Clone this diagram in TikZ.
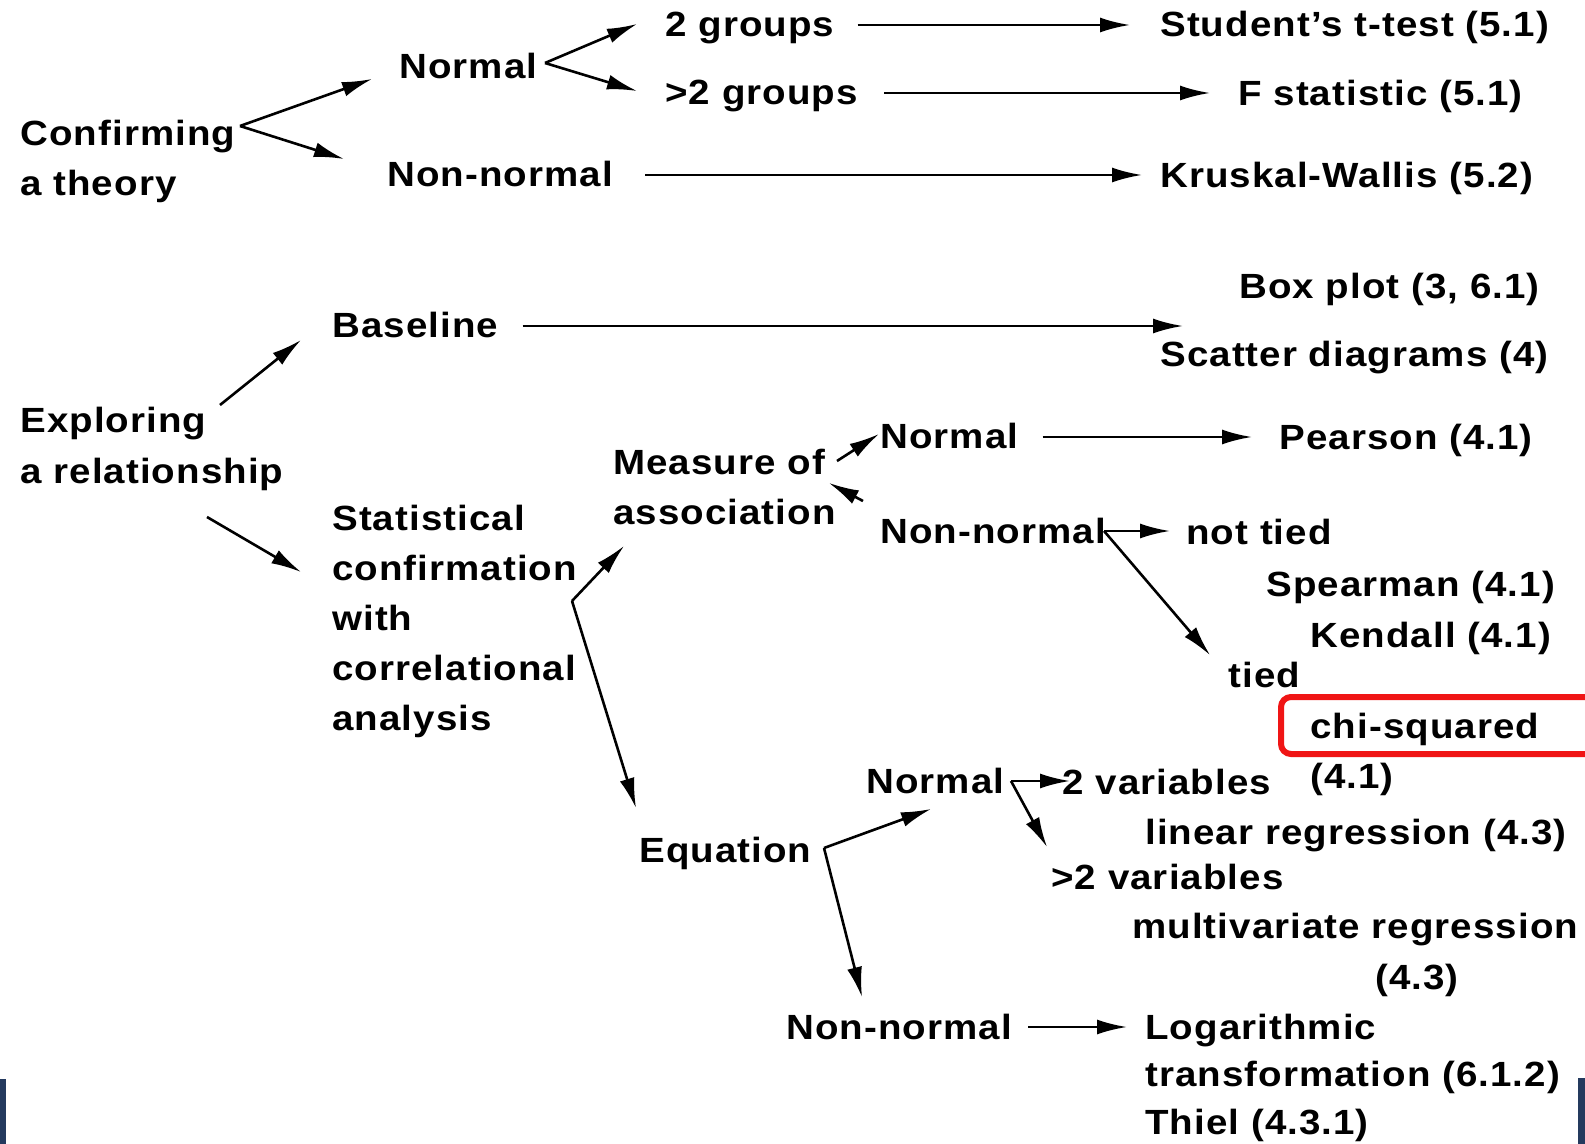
\documentclass[tikz,border=0pt]{standalone}
\usepackage{fontspec}
\newfontfamily\chartfont{Liberation Sans}[FakeStretch=1.1,LetterSpace=3.0]
\usetikzlibrary{arrows.meta}
\definecolor{MarkRed}{HTML}{F01515}
\definecolor{EdgeNavy}{HTML}{243A5E}

\begin{document}
\begin{tikzpicture}[x=0.5pt,y=-0.5pt,>={Latex[length=15pt,width=7.5pt]},
  txt/.style={font=\chartfont\bfseries\fontsize{17.5pt}{25pt}\selectfont,
    inner sep=0pt,anchor=base west,align=left},
  link/.style={->,line width=1.3pt}]
  \useasboundingbox (0,0) rectangle (1585,1144);
  % confirming a theory (multi-line nodes sit on their last line)
  \node[txt] (conf) at (20,196) {Confirming\\a theory};
  \node[txt] (normA) at (399,79) {Normal};
  \node[txt] (nonA) at (387,187) {Non-normal};
  \node[txt] (grp2) at (665,37) {2 groups};
  \node[txt] (grp3) at (665,105) {>2 groups};
  \node[txt] (ttest) at (1160,37) {Student’s t-test (5.1)};
  \node[txt] (fstat) at (1238,106) {F statistic (5.1)};
  \node[txt] (krus) at (1160,188) {Kruskal-Wallis (5.2)};
  % exploring a relationship
  \node[txt] (expl) at (20,483) {Exploring\\a relationship};
  \node[txt] (base) at (332,338) {Baseline};
  \node[txt] (boxp) at (1239,299) {Box plot (3, 6.1)};
  \node[txt] (scat) at (1160,367) {Scatter diagrams (4)};
  \node[txt] (stat) at (332,730) {Statistical\\confirmation\\with\\correlational\\analysis};
  \node[txt] (meas) at (613,524) {Measure of\\association};
  \node[txt] (normB) at (880,449) {Normal};
  \node[txt] (nonB) at (880,544) {Non-normal};
  \node[txt] (pear) at (1279,450) {Pearson (4.1)};
  \node[txt] (ntied) at (1186,545) {not tied};
  \node[txt] (spear) at (1266,596) {Spearman (4.1)};
  \node[txt] (kend) at (1310,647) {Kendall (4.1)};
  \node[txt] (tied) at (1228,687) {tied};
  \node[txt] (chi) at (1310,788) {chi-squared\\(4.1)};
  \node[txt] (equ) at (639,862) {Equation};
  \node[txt] (normC) at (866,793) {Normal};
  \node[txt] (var2) at (1062,794) {2 variables};
  \node[txt] (linreg) at (1145,844) {linear regression (4.3)};
  \node[txt] (var3) at (1051,889) {>2 variables};
  \node[txt] (mult) at (1132,938) {multivariate regression};
  \node[txt] (mult43) at (1375,989) {(4.3)};
  \node[txt] (nonC) at (786,1039) {Non-normal};
  \node[txt] (loga) at (1145,1134) {Logarithmic\\[-1.25pt]transformation (6.1.2)\\[-1.25pt]Thiel (4.3.1)};

  % fork points and arrow tips
  \coordinate (confFork) at (240,126);
  \coordinate (normATip) at (372,79);
  \coordinate (nonATip) at (344,159);
  \coordinate (normAFork) at (545,63);
  \coordinate (grp2Tip) at (637,24);
  \coordinate (grp3Tip) at (637,91);
  \coordinate (explUp) at (220,405);
  \coordinate (baseTip) at (301,340);
  \coordinate (explDown) at (207,517);
  \coordinate (statTip) at (301,572);
  \coordinate (scatTip) at (1183,325);
  \coordinate (statFork) at (572,601);
  \coordinate (measTip) at (624,546);
  \coordinate (equTip) at (636,808);
  \coordinate (measOut) at (837,461);
  \coordinate (normBTip) at (879,434);
  \coordinate (nonBBack) at (863,501);
  \coordinate (measBack) at (829,483);
  \coordinate (nonFork) at (1104,531);
  \coordinate (tiedTip) at (1210,655);
  \coordinate (equFork) at (824,848);
  \coordinate (normCTip) at (931,809);
  \coordinate (nonCTip) at (862,997);
  \coordinate (normFork) at (1011,781);
  \coordinate (var3Tip) at (1047,847);

  \draw[link] (confFork) -- (normATip);
  \draw[link] (confFork) -- (nonATip);
  \draw[link] (normAFork) -- (grp2Tip);
  \draw[link] (normAFork) -- (grp3Tip);
  \draw[link,shorten <=11.5pt,shorten >=15pt] ([yshift=6pt]grp2.base east) -- ([yshift=6pt]grp2.base east -| ttest.west);
  \draw[link,shorten <=13pt,shorten >=14pt] ([yshift=6pt]grp3.base east) -- ([yshift=6pt]grp3.base east -| fstat.west);
  \draw[link,shorten <=16pt,shorten >=9pt] ([yshift=6pt]nonA.base east) -- ([yshift=6pt]nonA.base east -| krus.west);
  \draw[link] (explUp) -- (baseTip);
  \draw[link] (explDown) -- (statTip);
  \draw[link,shorten <=12pt] ([yshift=6pt]base.base east) -- ([yshift=6pt]base.base east -| scatTip);
  \draw[link] (statFork) -- (measTip);
  \draw[link] (statFork) -- (equTip);
  \draw[link] (measOut) -- (normBTip);
  \draw[link] (nonBBack) -- (measBack);
  \draw[link,shorten <=12pt,shorten >=13.5pt] ([yshift=6pt]normB.base east) -- ([yshift=6pt]normB.base east -| pear.west);
  \draw[link,shorten >=8pt] (nonFork) -- (nonFork -| ntied.west);
  \draw[link] (nonFork) -- (tiedTip);
  \draw[link] (equFork) -- (normCTip);
  \draw[link] (equFork) -- (nonCTip);
  \draw[link,shorten >=-4pt] (normFork) -- (normFork -| var2.west);
  \draw[link] (normFork) -- (var3Tip);
  \draw[link,shorten <=8pt,shorten >=9pt] ([yshift=6pt]nonC.base east) -- ([yshift=6pt]nonC.base east -| loga.west);

  % highlight and page edges
  \draw[MarkRed,line width=3pt,rounded corners=5pt] (1281,697) rectangle (1610,754);
  \fill[EdgeNavy] (0,1079) rectangle (6,1144);
  \fill[EdgeNavy] (1578,1078) rectangle (1585,1144);
\end{tikzpicture}
\end{document}
